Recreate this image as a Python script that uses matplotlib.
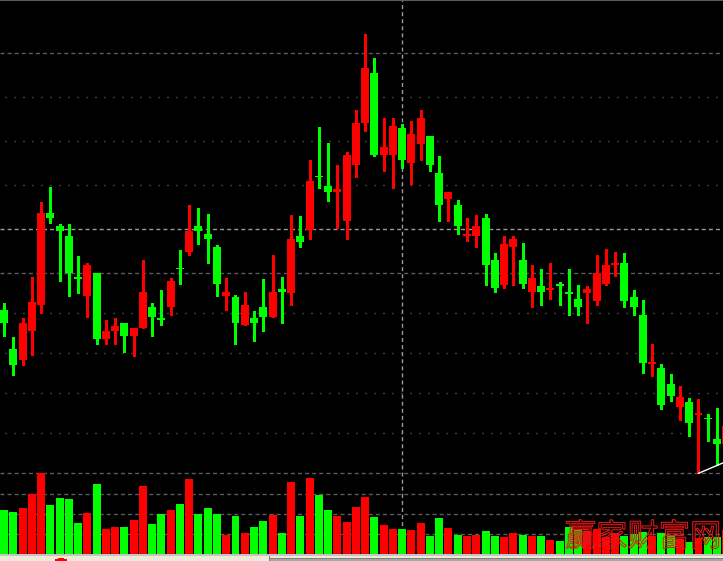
import matplotlib
matplotlib.use('Agg')
import matplotlib.pyplot as plt
import matplotlib.patheffects as pe
from matplotlib.patches import Rectangle
import numpy as np

plt.rcParams['lines.scale_dashes'] = False

# daily prices (yuan)
opens = [10.04, 9.55, 9.42, 9.78, 10.11, 11.25, 11.09, 10.97, 10.45, 10.21,
         10.50, 9.68, 9.78, 9.88, 9.72, 9.82, 10.08, 9.94, 10.08, 10.57,
         10.77, 11.09, 10.99, 10.83, 10.21, 10.20, 9.85, 9.94, 10.08, 9.95,
         10.30, 10.25, 10.97, 11.04, 11.72, 11.59, 11.52, 11.15, 11.86, 12.38,
         13.00, 11.98, 11.98, 12.32, 11.88, 12.12, 12.22, 11.75, 11.43, 11.35,
         10.97, 10.97, 11.19, 10.67, 10.35, 10.83, 10.67, 10.27, 10.34, 10.29,
         10.36, 10.26, 10.18, 10.25, 10.15, 10.37, 10.61, 10.63, 10.20, 9.98,
         9.37, 9.32, 9.12, 8.83, 8.89, 8.73, 8.69, 8.43, 8.37]
highs = [10.13, 9.70, 9.94, 10.45, 11.39, 11.58, 11.12, 11.12, 10.72, 10.63,
         10.50, 9.92, 9.94, 9.88, 9.82, 10.67, 10.13, 10.29, 10.44, 10.79,
         11.35, 11.32, 11.24, 10.85, 10.44, 10.23, 10.27, 10.03, 10.43, 10.73,
         10.45, 11.23, 11.22, 11.92, 12.33, 12.13, 11.85, 12.02, 12.54, 13.49,
         13.19, 12.44, 12.44, 12.37, 12.40, 12.54, 12.22, 11.97, 11.52, 11.42,
         11.19, 11.23, 11.24, 10.75, 10.97, 10.97, 10.88, 10.60, 10.55, 10.63,
         10.39, 10.55, 10.35, 10.34, 10.73, 10.80, 10.77, 10.75, 10.29, 10.17,
         9.62, 9.37, 9.24, 9.09, 8.94, 8.93, 8.74, 8.82, 8.65]
lows = [9.72, 9.23, 9.36, 9.48, 10.00, 11.13, 10.41, 10.21, 10.25, 9.95,
        9.62, 9.62, 9.62, 9.52, 9.46, 9.82, 9.72, 9.85, 9.98, 10.37,
        10.73, 10.87, 10.63, 10.21, 10.04, 9.62, 9.85, 9.66, 9.78, 9.95,
        9.88, 10.11, 10.83, 10.93, 11.56, 11.40, 11.07, 10.93, 11.70, 12.28,
        11.96, 11.78, 11.56, 11.82, 11.62, 11.92, 11.78, 11.16, 11.16, 10.99,
        10.90, 10.83, 10.35, 10.27, 10.31, 10.35, 10.31, 10.08, 10.11, 10.18,
        10.11, 9.98, 9.98, 9.88, 10.11, 10.35, 10.47, 10.08, 9.98, 9.26,
        9.22, 8.80, 8.90, 8.67, 8.47, 8.00, 8.41, 8.11, 8.30]
closes = [9.88, 9.36, 9.88, 10.14, 11.25, 11.19, 11.03, 10.51, 10.43, 10.60,
          9.68, 9.78, 9.84, 9.72, 9.82, 10.27, 9.95, 9.92, 10.40, 10.55,
          11.03, 11.03, 10.93, 10.37, 10.27, 9.88, 10.10, 9.88, 9.95, 10.27,
          10.27, 10.93, 10.89, 11.65, 11.70, 11.52, 11.55, 11.98, 12.38, 13.07,
          11.98, 12.08, 12.34, 11.92, 12.24, 12.44, 11.86, 11.36, 11.52, 11.09,
          10.99, 11.09, 10.61, 10.31, 10.87, 10.93, 10.37, 10.44, 10.27, 10.31,
          10.35, 10.25, 10.08, 10.30, 10.50, 10.60, 10.63, 10.15, 10.08, 9.38,
          9.38, 8.86, 8.96, 8.95, 8.63, 8.75, 8.68, 8.37, 8.59]
# volume, 10k lots
volumes = [4.4, 4.2, 4.6, 6.0, 8.1, 4.9, 5.6, 5.5, 3.1, 4.1,
           7.0, 2.5, 2.7, 2.7, 3.4, 6.8, 3.0, 4.0, 4.4, 5.0,
           7.5, 4.0, 4.6, 4.0, 1.9, 3.8, 2.1, 2.7, 3.3, 3.9,
           2.1, 7.2, 3.8, 7.6, 5.9, 4.4, 3.8, 3.2, 4.7, 5.7,
           3.7, 2.9, 2.5, 2.5, 2.4, 3.1, 1.8, 3.6, 2.6, 1.9,
           1.8, 1.9, 2.3, 1.8, 1.7, 2.1, 1.9, 1.8, 1.8, 1.4,
           1.3, 2.7, 2.4, 2.3, 2.5, 1.7, 2.1, 1.8, 2.0, 2.2,
           1.8, 2.1, 1.9, 1.5, 1.2, 1.6, 1.7, 1.7, 2.4]

price_dotted = [12.70, 12.15, 11.60, 10.00, 9.50, 9.00, 8.50]
price_dashed = [13.25, 10.50, 8.00]
vol_dashed = [2, 4, 6]
cross_day = 43
cross_price = 11.05
watermark = '赢家财富网'

RED = '#ff0000'
GREEN = '#00ff00'
W, H = 723, 561
PLOT_BOTTOM = 554  # pixel row where the volume bars stand


def draw_candles(ax, o, h, l, c):
    """Draw candle bodies and wicks, red for up days and green for down days."""
    x = np.arange(len(o))
    o, h, l, c = map(np.asarray, (o, h, l, c))
    up = c >= o
    colors = np.where(up, RED, GREEN)
    ax.vlines(x, l, h, colors=colors, lw=1.0, antialiased=False, zorder=3)
    bottom = np.minimum(o, c)
    height = np.abs(c - o)
    small = height < 0.02
    bottom = np.where(small, (o + c) / 2 - 0.01, bottom)
    height = np.where(small, 0.02, height)
    ax.bar(x, height, bottom=bottom, width=0.86, color=colors,
           linewidth=0, antialiased=False, zorder=4)


def draw_volume(ax, vol, o, c):
    """Draw the volume bars under the candles."""
    x = np.arange(len(vol))
    colors = np.where(np.asarray(c) >= np.asarray(o), RED, GREEN)
    ax.bar(x, vol, width=0.86, color=colors, linewidth=0,
           antialiased=False, zorder=3)


def plot_chart():
    fig = plt.figure(figsize=(W / 100, H / 100), dpi=100, facecolor='black')
    rect = [0, (H - PLOT_BOTTOM) / H, 1, PLOT_BOTTOM / H]
    xlim = (-4 / 9.26, (W - 4) / 9.26)

    ax = fig.add_axes(rect)
    ax.set_facecolor('black')
    ax.set_xlim(xlim)
    # 80 px per yuan, top of the picture at 13.916
    ax.set_ylim(13.91625 - PLOT_BOTTOM / 80, 13.91625)

    axv = fig.add_axes(rect)
    axv.patch.set_alpha(0)
    axv.set_xlim(xlim)
    axv.set_ylim(0, PLOT_BOTTOM / 10)

    for a in (ax, axv):
        a.set_xticks([])
        a.set_yticks([])
        for s in a.spines.values():
            s.set_visible(False)

    for p in price_dotted:
        ax.axhline(p, xmin=0.007, color='#7a7a7a', lw=1.0,
                   dashes=(0.72, 5.76), zorder=1)
    for p in price_dashed:
        ax.axhline(p, color='#5c5c5c', lw=1.0, dashes=(2.9, 2.2), zorder=1)
    for v in vol_dashed:
        axv.axhline(v, color='#5c5c5c', lw=1.0, dashes=(2.9, 2.2), zorder=1)

    # crosshair
    ax.axvline(cross_day, color='#9a9a9a', lw=1.0, dashes=(2.9, 2.2), zorder=2)
    ax.axhline(cross_price, color='#9a9a9a', lw=1.0, dashes=(2.9, 2.2), zorder=2)

    draw_candles(ax, opens, highs, lows, closes)
    draw_volume(axv, volumes, opens, closes)

    # lowest price marker
    i_low = int(np.argmin(lows))
    ax.plot([i_low, xlim[1]], [lows[i_low], lows[i_low] + 0.13],
            color='white', lw=1.0, zorder=5)

    # watermark
    fig.text(565 / W, 1 - 537 / H, watermark, color='none', fontsize=22.5,
             family=['Noto Sans CJK SC', 'DejaVu Sans'], ha='left', va='center',
             path_effects=[pe.withStroke(linewidth=0.75, foreground='#e81818')],
             zorder=10)

    # window chrome: top edge and bottom tab bar
    fig.add_artist(Rectangle((0, 1 - 1 / H), 1, 1 / H, transform=fig.transFigure,
                             color='#5a5a5a', lw=0))
    fig.add_artist(Rectangle((0, 5 / H), 1, 2 / H, transform=fig.transFigure,
                             color='#c4c4c4', lw=0))
    fig.add_artist(Rectangle((0, 0), 1, 5 / H, transform=fig.transFigure,
                             color='#eeead8', lw=0))
    fig.add_artist(Rectangle((270 / W, 0), 1, 2.5 / H, transform=fig.transFigure,
                             color='#a8a8a4', lw=0))
    fig.add_artist(Rectangle((270 / W, 2.5 / H), 1, 1 / H, transform=fig.transFigure,
                             color='#808080', lw=0))
    fig.add_artist(Rectangle((269 / W, 0), 1 / W, 5 / H, transform=fig.transFigure,
                             color='#808080', lw=0))
    fig.add_artist(Rectangle((55 / W, 0), 12 / W, 2 / H, transform=fig.transFigure,
                             color='#ff0000', lw=0))
    fig.add_artist(Rectangle((58 / W, 2 / H), 6 / W, 1 / H, transform=fig.transFigure,
                             color='#ff0000', lw=0))
    return fig


if __name__ == '__main__':
    fig = plot_chart()
    fig.savefig('out.png', dpi=100, facecolor='black')
    plt.close(fig)
